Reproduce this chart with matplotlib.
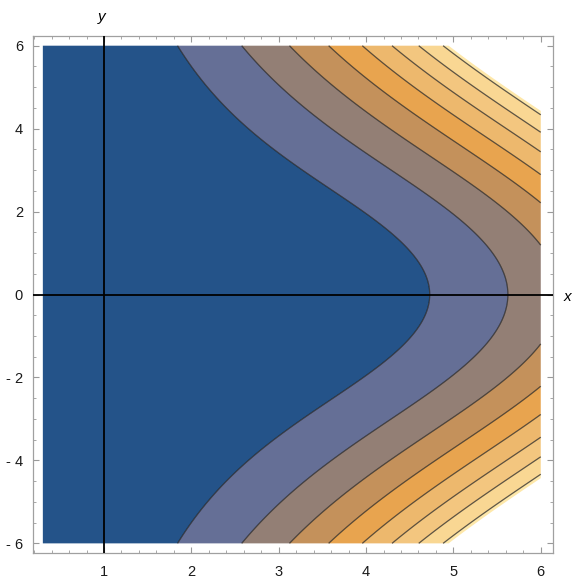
import numpy as np
import matplotlib
matplotlib.use('Agg')
import matplotlib.pyplot as plt
from matplotlib.ticker import FixedLocator, FixedFormatter, MultipleLocator

plt.rcParams['font.family'] = ['Liberation Sans', 'DejaVu Sans']

# plotted region of the function
X_RANGE = (0.3, 6.0)
Y_RANGE = (-6.0, 6.0)

# contour values and the cut-off above which the plot is left blank
LEVELS = [125, 250, 375, 500, 625, 750, 875, 1000]
CLIP = 1030

BAND_COLORS = ['#245389', '#656F96', '#937F75', '#C4915B', '#E8A44F',
               '#EDB86D', '#F3C67F', '#F9D793', '#FEE8AA']

X_TICKS = [1, 2, 3, 4, 5, 6]
Y_TICKS = [-6, -4, -2, 0, 2, 4, 6]
Y_TICK_LABELS = ['- 6', '- 4', '- 2', '0', '2', '4', '6']


def f(x, y):
    return x ** 4 / 4 + x ** 2 * y ** 2


x = np.linspace(X_RANGE[0], X_RANGE[1], 600)
y = np.linspace(Y_RANGE[0], Y_RANGE[1], 600)
X, Y = np.meshgrid(x, y)
Z = f(X, Y)

fig = plt.figure(figsize=(5.81, 5.83), dpi=100)
ax = fig.add_axes([0.0563, 0.0509, 0.8952, 0.8878])

ax.contourf(X, Y, Z, levels=[0] + LEVELS + [CLIP], colors=BAND_COLORS,
            antialiased=True)
ax.contour(X, Y, Z, levels=LEVELS, colors=[(0.1, 0.1, 0.1, 0.7)],
           linewidths=0.9)

# axes through the plot (Mathematica style)
ax.axhline(0, color='black', lw=1.3, zorder=5)
ax.axvline(1, color='black', lw=1.3, zorder=5)

ax.set_xlim(0.184, 6.138)
ax.set_ylim(-6.24, 6.24)

ax.xaxis.set_major_locator(FixedLocator(X_TICKS))
ax.xaxis.set_minor_locator(MultipleLocator(0.2))
ax.yaxis.set_major_locator(FixedLocator(Y_TICKS))
ax.yaxis.set_major_formatter(FixedFormatter(Y_TICK_LABELS))
ax.yaxis.set_minor_locator(MultipleLocator(0.5))

ax.tick_params(which='both', direction='in', top=True, right=True,
               color='#999999', labelcolor='#1a1a1a', labelsize=10.5)
ax.tick_params(which='major', length=4.5, width=0.8)
ax.tick_params(which='minor', length=2.5, width=0.6)
ax.tick_params(axis='x', pad=8.5)
ax.tick_params(axis='y', pad=7)

for s in ax.spines.values():
    s.set_color('#a0a0a0')
    s.set_linewidth(0.9)

ax.annotate('y', xy=(1, 1), xycoords=('data', 'axes fraction'),
            xytext=(-2, 13.5), textcoords='offset points',
            ha='center', va='center', fontsize=11, style='italic',
            annotation_clip=False)
ax.annotate('x', xy=(1, 0), xycoords=('axes fraction', 'data'),
            xytext=(10.5, -1.5), textcoords='offset points',
            ha='center', va='center', fontsize=11, style='italic',
            annotation_clip=False)

fig.savefig('out.png', dpi=100)
